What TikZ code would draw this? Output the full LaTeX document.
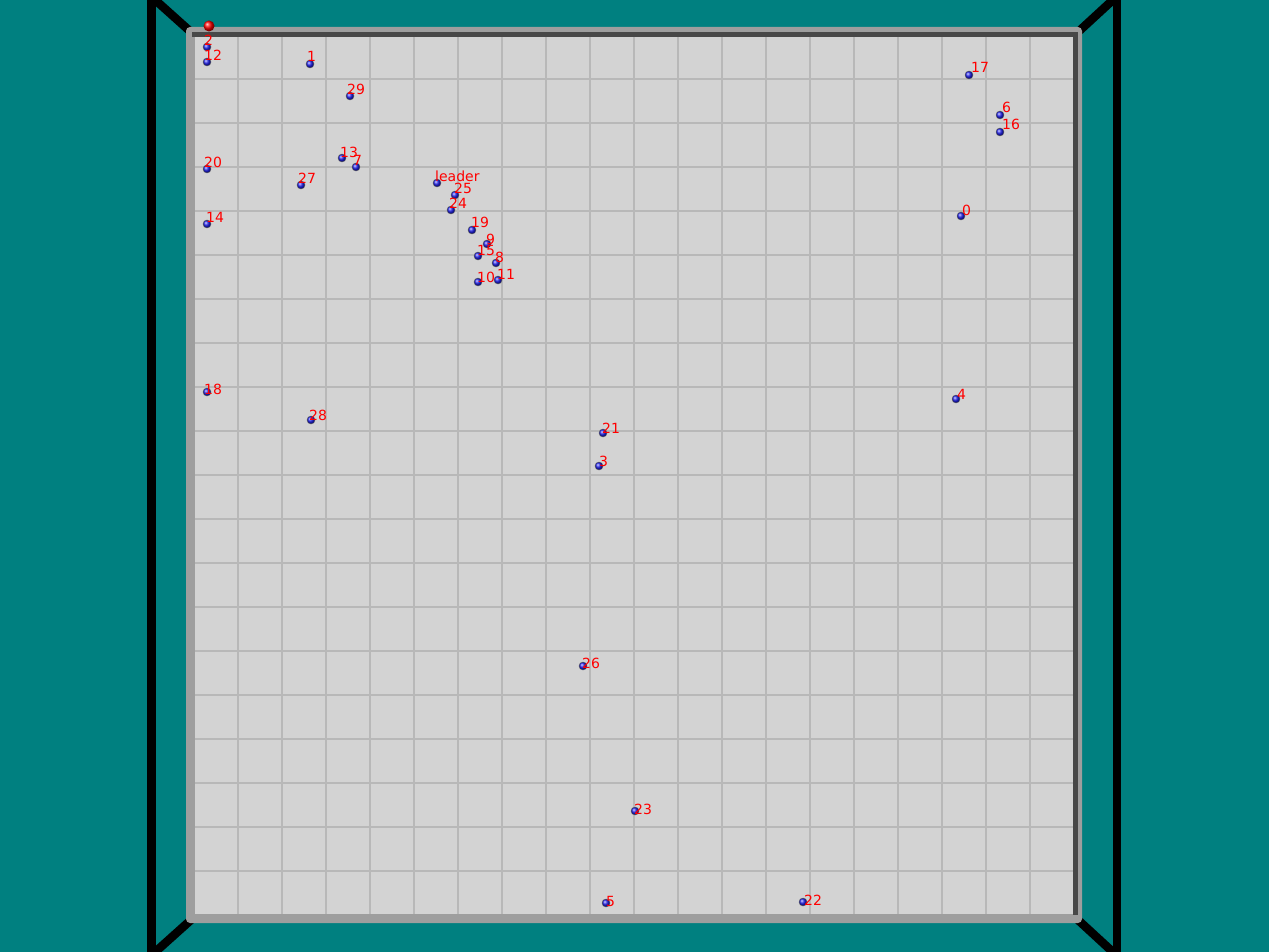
\documentclass[tikz,border=0pt]{standalone}
\usepackage{fontspec}
\setsansfont{DejaVu Sans}
\usetikzlibrary{positioning}
\definecolor{bgTeal}{RGB}{0, 128, 128}
\definecolor{floorGray}{RGB}{211, 211, 211}
\definecolor{gridGray}{RGB}{184, 184, 184}
\definecolor{rimLight}{RGB}{158, 158, 158}
\definecolor{rimDark}{RGB}{72, 72, 72}
\definecolor{tagRed}{RGB}{255, 0, 0}
\definecolor{robotBlue}{RGB}{30, 30, 235}

\begin{document}
\begin{tikzpicture}[
    x=1pt, y=-1pt,
    robot/.style={circle, inner sep=0pt, minimum size=8pt, shading=ball, ball color=robotBlue, draw=gray!70!black, line width=0.4pt},
    beacon/.style={circle, inner sep=0pt, minimum size=11pt, shading=ball, ball color=red},
    tag/.style={anchor=base west, inner sep=0pt, text=tagRed, font=\sffamily\fontsize{14}{16}\selectfont},
    gridline/.style={draw=gridGray, line width=1.5pt},
    frameline/.style={draw=black, line width=8.5pt}
  ]
    % Background and bounding box
    \fill[bgTeal] (0,0) rectangle (1269,952);
    \useasboundingbox (0,0) rectangle (1269,952);

    % Black frame
    \draw[frameline] (151.5,-5) -- (151.5,957);
    \draw[frameline] (1117,-5) -- (1117,957);
    \draw[frameline] (153,-2) -- (192,33);
    \draw[frameline] (153,954) -- (192,919);
    \draw[frameline] (1115,-2) -- (1077,33);
    \draw[frameline] (1115,954) -- (1077,919);

    % Platform with rim
    \fill[rimLight, rounded corners=4pt] (186,27) rectangle (1082,923);
    \fill[rimDark] (192,32) rectangle (1078,37);
    \fill[rimDark] (1073,32) rectangle (1078,915);
    \fill[floorGray] (195,37) rectangle (1073,914);

    % Grid
    \foreach \gx in {238,282,...,1030}
      \draw[gridline] (\gx,37) -- (\gx,914);
    \foreach \gy in {79,123,...,871}
      \draw[gridline] (195,\gy) -- (1073,\gy);

    % Beacon
    \node[beacon] (bcn) at (209,26) {};

    % Robots
    \node[robot] (r2) at (207,47) {};
    \node[robot] (r12) at (207,62) {};
    \node[robot] (r1) at (310,64) {};
    \node[robot] (r29) at (350,96) {};
    \node[robot] (r17) at (969,75) {};
    \node[robot] (r6) at (1000,115) {};
    \node[robot] (r16) at (1000,132) {};
    \node[robot] (r20) at (207,169) {};
    \node[robot] (r13) at (342,158) {};
    \node[robot] (r7) at (356,167) {};
    \node[robot] (r27) at (301,185) {};
    \node[robot] (rlead) at (437,183) {};
    \node[robot] (r25) at (455,195) {};
    \node[robot] (r24) at (451,210) {};
    \node[robot] (r14) at (207,224) {};
    \node[robot] (r0) at (961,216) {};
    \node[robot] (r19) at (472,230) {};
    \node[robot] (r9) at (487,244) {};
    \node[robot] (r15) at (478,256) {};
    \node[robot] (r8) at (496,263) {};
    \node[robot] (r10) at (478,282) {};
    \node[robot] (r11) at (498,280) {};
    \node[robot] (r18) at (207,392) {};
    \node[robot] (r28) at (311,420) {};
    \node[robot] (r4) at (956,399) {};
    \node[robot] (r21) at (603,433) {};
    \node[robot] (r3) at (599,466) {};
    \node[robot] (r26) at (583,666) {};
    \node[robot] (r23) at (635,811) {};
    \node[robot] (r5) at (606,903) {};
    \node[robot] (r22) at (803,902) {};

    % Labels
    \node[tag] (t2) at (204,46) {2};
    \node[tag] (t12) at (204,61) {12};
    \node[tag] (t1) at (307,62) {1};
    \node[tag] (t29) at (347,95) {29};
    \node[tag] (t17) at (971,73) {17};
    \node[tag] (t6) at (1002,113) {6};
    \node[tag] (t16) at (1002,130) {16};
    \node[tag] (t20) at (204,168) {20};
    \node[tag] (t13) at (340,158) {13};
    \node[tag] (t7) at (353,166) {7};
    \node[tag] (t27) at (298,184) {27};
    \node[tag] (tlead) at (435,182) {leader};
    \node[tag] (t25) at (454,194) {25};
    \node[tag] (t24) at (449,209) {24};
    \node[tag] (t14) at (206,223) {14};
    \node[tag] (t0) at (962,215) {0};
    \node[tag] (t19) at (471,228) {19};
    \node[tag] (t9) at (486,244) {9};
    \node[tag] (t15) at (477,255) {15};
    \node[tag] (t8) at (495,262) {8};
    \node[tag] (t10) at (477,282) {10};
    \node[tag] (t11) at (497,279) {11};
    \node[tag] (t18) at (204,394) {18};
    \node[tag] (t28) at (309,420) {28};
    \node[tag] (t4) at (957,399) {4};
    \node[tag] (t21) at (602,433) {21};
    \node[tag] (t3) at (599,466) {3};
    \node[tag] (t26) at (582,668) {26};
    \node[tag] (t23) at (634,814) {23};
    \node[tag] (t5) at (606,906) {5};
    \node[tag] (t22) at (804,905) {22};
  \end{tikzpicture}
\end{document}
